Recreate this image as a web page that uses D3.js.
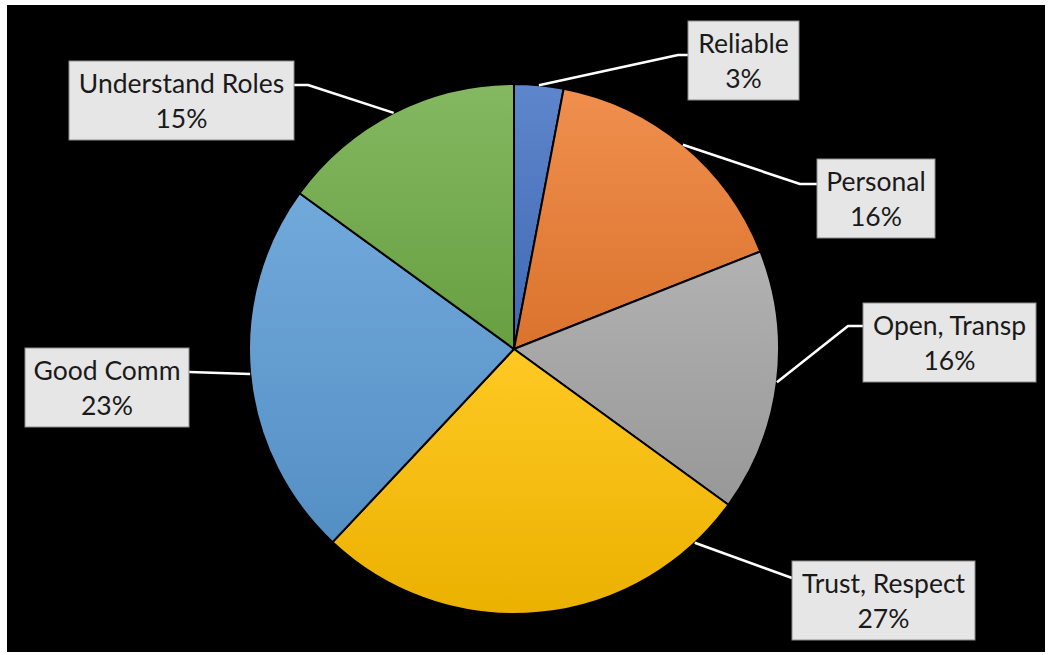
<!DOCTYPE html>
<html>
<head>
<meta charset="utf-8">
<script src="https://cdn.jsdelivr.net/npm/d3@7"></script>
<style>
  html, body { margin: 0; padding: 0; background: #ffffff; }
  svg { display: block; }
</style>
</head>
<body>
<svg id="chart" width="1049" height="655"></svg>
<script>
// Survey shares, clockwise from 12 o'clock
const categories = ["Reliable", "Personal", "Open, Transp", "Trust, Respect", "Good Comm", "Understand Roles"];
const values = [3, 16, 16, 27, 23, 15];
const baseColors = ["#4472c4", "#ed7d31", "#a5a5a5", "#ffc000", "#5b9bd5", "#70ad47"];

// Label callout layout: box rect, leader elbow points, and the angle (deg) where the leader meets the pie
const labelBoxes = [
  { x: 688, y: 21,  w: 111, h: 79, elbow: [[678, 55], [688, 55]] },
  { x: 817, y: 159, w: 118, h: 79, elbow: [[800, 184], [817, 184]] },
  { x: 863, y: 303, w: 173, h: 79, elbow: [[848, 326], [863, 326]] },
  { x: 792, y: 561, w: 183, h: 79, elbow: [[792, 578]], anchorDeg: 137 },
  { x: 25,  y: 348, w: 164, h: 79, elbow: [[189, 372]] },
  { x: 69,  y: 61,  w: 225, h: 79, elbow: [[308, 85], [294, 85]] }
];

const svg = d3.select("#chart");
const W = 1049, H = 655;
const cx = 514, cy = 349, R = 265;

// White frame with black chart area
svg.append("rect").attr("x", 0).attr("y", 0).attr("width", W).attr("height", H).attr("fill", "#ffffff");
svg.append("rect").attr("x", 7).attr("y", 5).attr("width", 1038).attr("height", 647).attr("fill", "#000000");

// Vertical gradient per slice: lighter at the top, deeper at the bottom
const defs = svg.append("defs");
baseColors.forEach((c, i) => {
  const g = defs.append("linearGradient")
    .attr("id", "grad" + i)
    .attr("x1", 0).attr("y1", 0).attr("x2", 0).attr("y2", 1);
  const top = d3.interpolateRgb(c, "#ffffff")(0.14);
  const bot = d3.interpolateRgb(c, "#000000")(0.08);
  g.append("stop").attr("offset", "0%").attr("stop-color", top);
  g.append("stop").attr("offset", "100%").attr("stop-color", bot);
});

const data = categories.map((name, i) => ({ name, value: values[i], i }));

const pie = d3.pie().value(d => d.value).sort(null);
const arcs = pie(data);
const arc = d3.arc().innerRadius(0).outerRadius(R);

const g = svg.append("g").attr("transform", `translate(${cx},${cy})`);

g.selectAll("path.slice")
  .data(arcs)
  .join("path")
  .attr("class", "slice")
  .attr("d", arc)
  .attr("fill", d => `url(#grad${d.data.i})`)
  .attr("stroke", "#000000")
  .attr("stroke-width", 2)
  .attr("stroke-linejoin", "round");

// Leader lines from the pie edge to each label box
const leaders = svg.append("g");
arcs.forEach((a, i) => {
  const lb = labelBoxes[i];
  const ang = lb.anchorDeg !== undefined ? lb.anchorDeg * Math.PI / 180 : (a.startAngle + a.endAngle) / 2;
  const start = [cx + R * Math.sin(ang), cy - R * Math.cos(ang)];
  const pts = [start].concat(lb.elbow);
  leaders.append("path")
    .attr("d", d3.line()(pts))
    .attr("fill", "none")
    .attr("stroke", "#ffffff")
    .attr("stroke-width", 2.6)
    .attr("stroke-linejoin", "round");
});

// Label boxes with category name and percentage
const fmt = d3.format(".0%");
const total = d3.sum(values);
const labels = svg.append("g");
arcs.forEach((a, i) => {
  const lb = labelBoxes[i];
  labels.append("rect")
    .attr("x", lb.x).attr("y", lb.y)
    .attr("width", lb.w).attr("height", lb.h)
    .attr("fill", "#e7e6e6")
    .attr("stroke", "#8c8c8c")
    .attr("stroke-width", 1);
  const tx = lb.x + lb.w / 2;
  labels.append("text")
    .attr("x", tx).attr("y", lb.y + 32)
    .attr("text-anchor", "middle")
    .attr("font-family", "Lato, 'Open Sans', sans-serif")
    .attr("font-size", 26.5)
    .attr("fill", "#1a1a1a")
    .text(a.data.name);
  labels.append("text")
    .attr("x", tx).attr("y", lb.y + 67)
    .attr("text-anchor", "middle")
    .attr("font-family", "Lato, 'Open Sans', sans-serif")
    .attr("font-size", 26.5)
    .attr("fill", "#1a1a1a")
    .text(fmt(a.data.value / total));
});
</script>
</body>
</html>
